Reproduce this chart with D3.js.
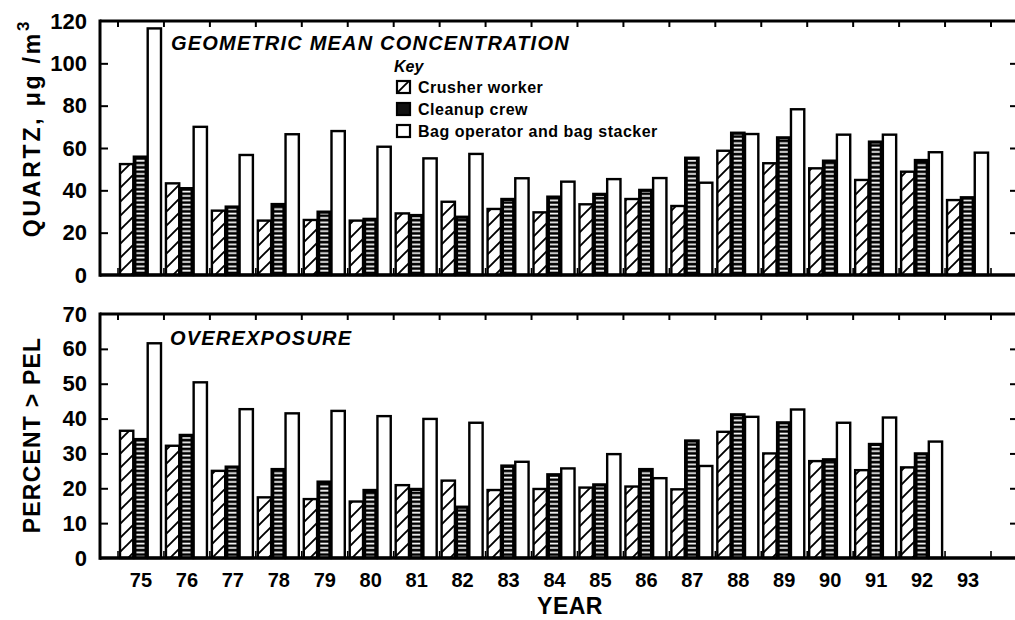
<!DOCTYPE html>
<html><head><meta charset="utf-8">
<script src="https://cdn.jsdelivr.net/npm/d3@7"></script>
<style>
html,body{margin:0;padding:0;background:#fff;}
svg{display:block;font-family:"Liberation Sans",Arial,sans-serif;}
</style></head>
<body>
<svg id="chart" width="1015" height="620"></svg>
<script>
// ---- data ----
const years = ["75","76","77","78","79","80","81","82","83","84","85","86","87","88","89","90","91","92","93"];
const seriesKeys = ["crusher","cleanup","bag"];
const seriesNames = ["Crusher worker","Cleanup crew","Bag operator and bag stacker"];
// Geometric mean concentration, quartz µg/m3
const topCrusher = [52.4,43.3,30.4,25.7,26,25.7,29.1,34.6,31.2,29.6,33.4,35.9,32.6,58.7,52.8,50.4,44.9,48.8,35.4];
const topCleanup = [55.9,41,32.3,33.5,29.9,26.5,28.3,27.5,35.9,37,38.3,40.2,55.4,67.2,65,54,63,54.3,36.7];
const topBag     = [116.5,70,56.7,66.5,68,60.6,55.1,57.2,45.7,44.1,45.3,45.8,43.6,66.6,78.3,66.3,66.3,58,57.8];
// Overexposure, percent > PEL
const botCrusher = [36.5,32.2,25,17.4,16.9,16.2,20.9,22.2,19.5,19.8,20.2,20.5,19.7,36.2,30,27.8,25.2,26,null];
const botCleanup = [34.1,35.3,26.2,25.5,21.9,19.5,19.8,14.7,26.5,24,21.1,25.5,33.7,41.2,38.9,28.3,32.7,30,null];
const botBag     = [61.6,50.4,42.7,41.5,42.2,40.7,39.9,38.8,27.6,25.7,29.8,22.9,26.4,40.5,42.6,38.8,40.3,33.4,null];
const topTicks = [0,20,40,60,80,100,120];
const botTicks = [0,10,20,30,40,50,60,70];

// ---- layout ----
const svg = d3.select("#chart");
const FONT = '"Liberation Sans",Arial,sans-serif';
const leftX = 100, rightX = 1015;

const x = d3.scaleBand().domain(years).range([118, 991]).padding(0);
const xs = d3.scaleBand().domain(seriesKeys).range([2, 43]).paddingInner(0.04);

const defs = svg.append("defs");
const hatch = defs.append("pattern").attr("id","hatch").attr("patternUnits","userSpaceOnUse")
  .attr("width",14).attr("height",14);
hatch.append("rect").attr("width",14).attr("height",14).attr("fill","#fff");
hatch.append("path").attr("d","M-1,15 L15,-1 M-4,4 L4,-4 M10,18 L18,10")
  .attr("stroke","#000").attr("stroke-width",1.9);
const stripes = defs.append("pattern").attr("id","stripes").attr("patternUnits","userSpaceOnUse")
  .attr("width",8).attr("height",4.4);
stripes.append("rect").attr("width",8).attr("height",4.4).attr("fill","#000");
stripes.append("rect").attr("y",1.5).attr("width",8).attr("height",1.7).attr("fill","#fff");

function panel(cfg){
  const y = d3.scaleLinear().domain(cfg.domain).range(cfg.range);
  const g = svg.append("g");
  const y0 = y(0), yTop = y(cfg.domain[1]);
  const data = years.map((yr,i)=>({yr, crusher:cfg.vals[0][i], cleanup:cfg.vals[1][i], bag:cfg.vals[2][i]}));

  // bars
  data.forEach(d=>{
    seriesKeys.forEach(k=>{
      const v = d[k];
      if(v==null) return;
      const bx = x(d.yr)+xs(k), bw = xs.bandwidth(), by = y(v), bh = y0-y(v);
      if(k==="cleanup"){
        g.append("rect").attr("x",bx).attr("y",by).attr("width",bw).attr("height",bh).attr("fill","#000");
        g.append("rect").attr("x",bx+2.6).attr("y",by+2).attr("width",bw-5.2).attr("height",Math.max(0,bh-2)).attr("fill","url(#stripes)");
        g.append("rect").attr("x",bx).attr("y",by).attr("width",bw).attr("height",bh)
          .attr("fill","none").attr("stroke","#000").attr("stroke-width",2.4);
      } else {
        g.append("rect").attr("x",bx).attr("y",by).attr("width",bw).attr("height",bh)
          .attr("fill", k==="crusher" ? "url(#hatch)" : "#fff")
          .attr("stroke","#000").attr("stroke-width",2.4);
      }
    });
  });

  // frame
  g.append("line").attr("x1",leftX).attr("x2",rightX).attr("y1",yTop).attr("y2",yTop).attr("stroke","#000").attr("stroke-width",3.2);
  g.append("line").attr("x1",leftX).attr("x2",rightX).attr("y1",y0).attr("y2",y0).attr("stroke","#000").attr("stroke-width",3.6);
  g.append("line").attr("x1",leftX).attr("x2",leftX).attr("y1",yTop-1.5).attr("y2",y0+1.8).attr("stroke","#000").attr("stroke-width",3);

  // band boundary ticks (top and bottom)
  const bounds = years.map(v=>x(v)).concat([x(years[years.length-1])+x.bandwidth()]);
  bounds.forEach(bx=>{
    g.append("line").attr("x1",bx).attr("x2",bx).attr("y1",yTop).attr("y2",yTop+6).attr("stroke","#000").attr("stroke-width",2);
    g.append("line").attr("x1",bx).attr("x2",bx).attr("y1",y0).attr("y2",y0-7).attr("stroke","#000").attr("stroke-width",1.6);
  });

  // left axis
  const la = g.append("g").attr("transform",`translate(${leftX},0)`)
    .call(d3.axisLeft(y).tickValues(cfg.ticks).tickSize(-8).tickPadding(13));
  la.select(".domain").remove();
  la.selectAll(".tick line").attr("stroke","#000").attr("stroke-width",2);
  la.selectAll(".tick text").attr("font-family",FONT).attr("font-size",22).attr("font-weight","bold").attr("fill","#000");
  la.selectAll(".tick").filter(d=>d===0 || d===cfg.domain[1]).select("line").remove();

  // right axis (ticks only)
  const ra = g.append("g").attr("transform",`translate(${rightX},0)`)
    .call(d3.axisRight(y).tickValues(cfg.ticks.filter(t=>t>0 && t<cfg.domain[1])).tickSize(-5).tickFormat(""));
  ra.select(".domain").remove();
  ra.selectAll(".tick line").attr("stroke","#000").attr("stroke-width",2);

  // panel title
  g.append("text").attr("x",cfg.titleX).attr("y",cfg.titleY).text(cfg.title)
    .attr("font-family",FONT).attr("font-size",20).attr("font-weight","bold").attr("font-style","italic")
    .attr("letter-spacing",1.2).attr("fill","#000");

  // y title
  const yt = g.append("text").attr("transform",`translate(40,${cfg.yTitleY}) rotate(-90)`)
    .attr("text-anchor","middle").attr("font-family",FONT).attr("font-size",23).attr("font-weight","bold")
    .attr("letter-spacing",cfg.yTitleLS).attr("fill","#000");
  cfg.yTitle.forEach(p=>{
    const t = yt.append("tspan").text(p.t);
    if(p.sup) t.attr("font-size",17).attr("dy",-11);
  });
  return {g,y};
}

panel({domain:[0,120], range:[275,21], ticks:topTicks, vals:[topCrusher,topCleanup,topBag],
  title:"GEOMETRIC MEAN CONCENTRATION", titleX:171, titleY:50,
  yTitle:[{t:"QUARTZ, \u03BCg /m"},{t:"3",sup:true}], yTitleY:128, yTitleLS:2.8});
panel({domain:[0,70], range:[558,314], ticks:botTicks, vals:[botCrusher,botCleanup,botBag],
  title:"OVEREXPOSURE", titleX:170, titleY:345,
  yTitle:[{t:"PERCENT > PEL"}], yTitleY:435, yTitleLS:1.2});

// x axis labels
const xa = svg.append("g").attr("transform","translate(0,558)")
  .call(d3.axisBottom(x).tickSize(0).tickPadding(15));
xa.select(".domain").remove();
xa.selectAll(".tick text").attr("font-family",FONT).attr("font-size",20).attr("font-weight","bold").attr("fill","#000");
svg.append("text").attr("x",570).attr("y",614).attr("text-anchor","middle").text("YEAR")
  .attr("font-family",FONT).attr("font-size",23).attr("font-weight","bold").attr("letter-spacing",0.5).attr("fill","#000");

// legend
const lg = svg.append("g");
lg.append("text").attr("x",394).attr("y",72).text("Key").attr("font-family",FONT).attr("font-size",16)
  .attr("font-weight","bold").attr("font-style","italic").attr("fill","#000");
const rowY = [93, 115, 137];
seriesKeys.forEach((k,i)=>{
  const by = rowY[i]-12;
  if(k==="cleanup"){
    lg.append("rect").attr("x",397).attr("y",by).attr("width",13).attr("height",12).attr("fill","#111")
      .attr("stroke","#000").attr("stroke-width",2.2);
  } else {
    lg.append("rect").attr("x",397).attr("y",by).attr("width",13).attr("height",12)
      .attr("fill", k==="crusher" ? "url(#hatch)" : "#fff").attr("stroke","#000").attr("stroke-width",2.2);
  }
  lg.append("text").attr("x",418).attr("y",rowY[i]).text(seriesNames[i]).attr("font-family",FONT)
    .attr("font-size",16).attr("font-weight","bold").attr("letter-spacing",0.5).attr("fill","#000");
});
</script>
</body></html>
